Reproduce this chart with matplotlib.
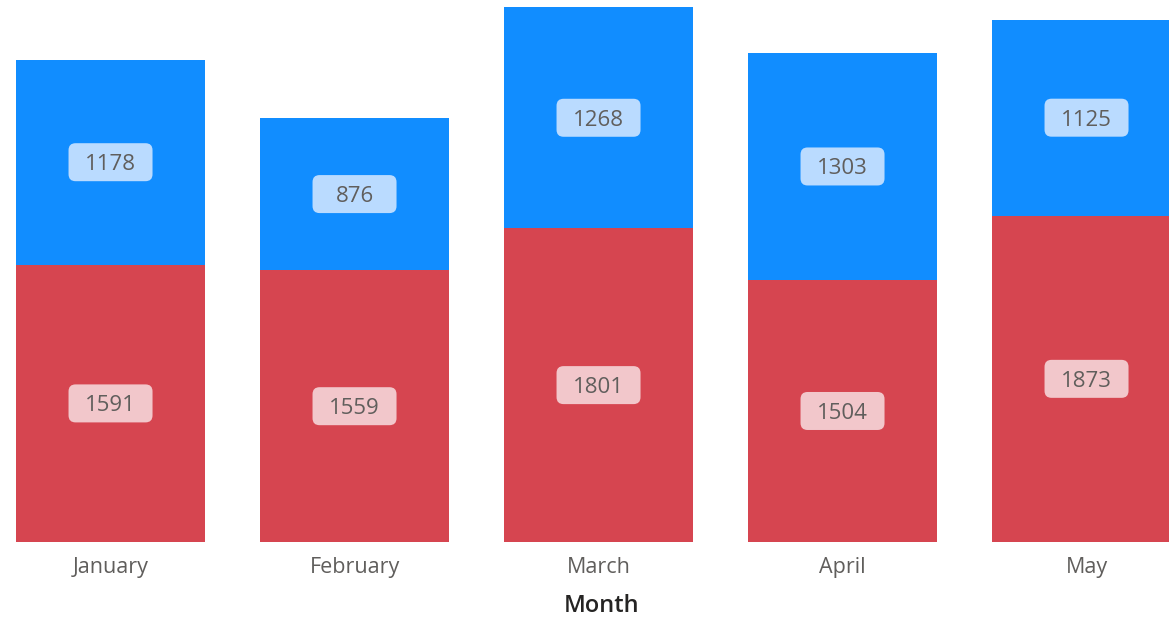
import matplotlib.pyplot as plt
from matplotlib.patches import FancyBboxPatch
from matplotlib.transforms import IdentityTransform

months = ['January', 'February', 'March', 'April', 'May']
red_vals = [1591, 1559, 1801, 1504, 1873]
blue_vals = [1178, 876, 1268, 1303, 1125]

plt.rcParams['font.family'] = ['Open Sans', 'DejaVu Sans']

fig = plt.figure(figsize=(11.69, 6.17), dpi=100)
ax = fig.add_axes([0, 1 - 542 / 617, 1, 542 / 617])

x = list(range(len(months)))
ax.bar(x, red_vals, width=0.775, color='#D64550')
ax.bar(x, blue_vals, width=0.775, bottom=red_vals, color='#118DFF')

ax.set_xlim(-0.453, 4.338)
ax.set_ylim(0, 3111)


def label(xc, yc, txt, fc):
    # fixed-size rounded box in pixels, like the data labels of the original
    px, py = ax.transData.transform((xc, yc))
    w, h = 84, 38
    box = FancyBboxPatch((px - w / 2, py - h / 2), w, h,
                         boxstyle='round,pad=0,rounding_size=7',
                         fc=fc, ec='none', transform=IdentityTransform(),
                         zorder=3, clip_on=False)
    ax.add_artist(box)
    ax.text(xc, yc, txt, ha='center', va='center_baseline', fontsize=16,
            color='#605E5C', zorder=4)


for i in x:
    label(i, red_vals[i] / 2, str(red_vals[i]), '#F2C7CB')
    label(i, red_vals[i] + blue_vals[i] / 2, str(blue_vals[i]), '#BADBFF')

ax.set_yticks([])
ax.set_xticks(x)
ax.set_xticklabels(months, fontsize=15.5, color='#605E5C')
ax.tick_params(axis='x', length=0, pad=11)
for s in ax.spines.values():
    s.set_visible(False)

ax.set_xlabel('Month', fontsize=17, fontweight='semibold', color='#252423',
              labelpad=11)
ax.xaxis.label.set_x(602 / 1169)

fig.savefig('out.png', dpi=100)
